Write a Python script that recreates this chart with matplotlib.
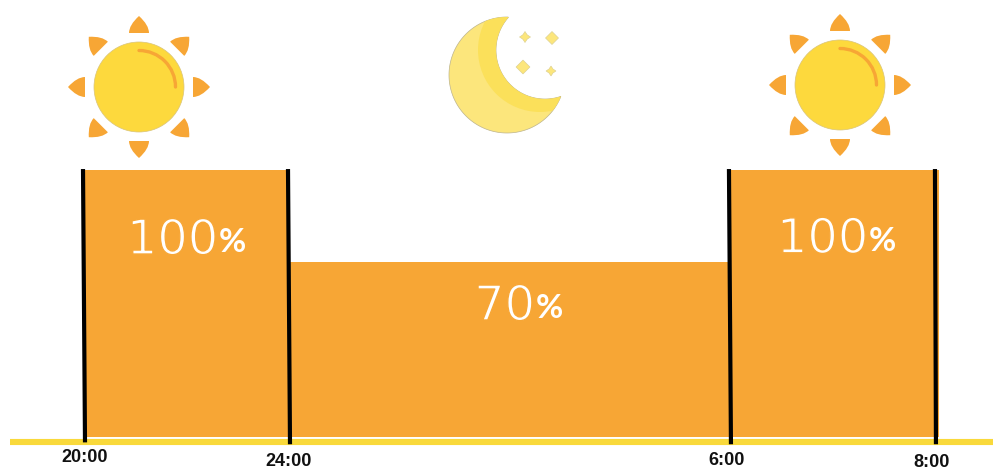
import numpy as np
import matplotlib
matplotlib.use('Agg')
import matplotlib.pyplot as plt
import matplotlib.patheffects as pe
from matplotlib.patches import Circle, PathPatch, Polygon, Arc
from matplotlib.path import Path

# Brightness schedule
time_labels = ['20:00', '24:00', '6:00', '8:00']
tick_pos = [0, 1, 3.151, 4.151]
levels = [100, 70, 100]

ORANGE = '#F7A635'
YELLOW = '#F9D93B'
SUN = '#FDD93D'
MOON_LIGHT = '#FCE67C'
MOON_DARK = '#FBE05A'

fig = plt.figure(figsize=(9.93, 4.70), dpi=100)
ax = fig.add_axes([0, 0, 1, 1])
ax.set_xlim(-85 / 205, 908 / 205)
ax.set_ylim(2.2, 155.4)
ax.axis('off')

# Bars start at a raised floor, the last one runs a little past its tick
floor = 12.8
widths = [1, 2.151, 1.015]
ax.bar(tick_pos[:3], [v - floor for v in levels], widths, bottom=floor,
       align='edge', color=ORANGE, linewidth=0)

# Ground line
ax.hlines(11.3, -75 / 205, 908 / 205, color=YELLOW, lw=4.4, capstyle='butt')

# Slightly slanted black dividers
lean = [-2 / 205, -2 / 205, -2 / 205, -1 / 205]
ends = [11.2, 10.6, 10.6, 10.6]
for x, d, e in zip(tick_pos, lean, ends):
    ax.plot([x + d, x], [100.3, e], color='black', lw=3, solid_capstyle='butt')

# Time labels under the ground line
label_x = [0, 0.995, 3.132, 4.132]
label_y = [6.2, 4.9, 5.2, 4.5]
for x, y, s in zip(label_x, label_y, time_labels):
    ax.text(x, y, s, ha='center', va='center', fontsize=13, fontweight='bold',
            family='Liberation Sans', color='#111111')

# Percent labels: digits thinned by an orange outline, small heavier sign
pct_x = [0.649, 2.195, 3.82]
pct_y = [77.0, 55.5, 77.4]
for x, y, v in zip(pct_x, pct_y, levels):
    t = ax.text(x, y, str(v), ha='right', va='center', fontsize=34.5, color='white',
                family='DejaVu Sans')
    t.set_path_effects([pe.Normal(), pe.Stroke(linewidth=1.0, foreground=ORANGE)])
    ax.text(x + 0.005, y - 0.8, '%', ha='left', va='center', fontsize=24,
            color='white', family='Lato', fontweight='bold')

# Icons live on an overlay measured in pixels
icons = fig.add_axes([0, 0, 1, 1])
icons.set_xlim(0, 993)
icons.set_ylim(470, 0)
icons.axis('off')
icons.patch.set_alpha(0)


def draw_sun(cx, cy):
    verts = [(-10, -54), (10, -54), (10, -62), (0, -71), (-10, -62), (-10, -54), (-10, -54)]
    codes = [Path.MOVETO, Path.LINETO, Path.CURVE3, Path.CURVE3, Path.CURVE3, Path.CURVE3, Path.CLOSEPOLY]
    petal = np.array(verts, dtype=float)
    for a in np.deg2rad(np.arange(0, 360, 45)):
        c, s = np.cos(a), np.sin(a)
        pts = petal @ np.array([[c, s], [-s, c]]) + [cx, cy]
        icons.add_patch(PathPatch(Path(pts, codes), fc=ORANGE, ec='none'))
    icons.add_patch(Circle((cx, cy), 45, fc=SUN, ec='#D9C47A', lw=0.5))
    icons.add_patch(Arc((cx, cy), 73, 73, theta1=270, theta2=360, color=ORANGE, lw=2.4,
                        capstyle='round'))


draw_sun(139, 87)
draw_sun(840, 85)

# Crescent: outer circle arc out to the tips, inner circle arc back
oc, orad = np.array([507, 75]), 58
ic, irad = np.array([545, 50]), 49
tip_a = np.array([508, 17])
tip_b = np.array([561, 97])
a0 = np.arctan2(*(tip_a - oc)[::-1])
a1 = np.arctan2(*(tip_b - oc)[::-1])
outer = np.linspace(a0 + 2 * np.pi, a1, 120)
b0 = np.arctan2(*(tip_b - ic)[::-1])
b1 = np.arctan2(*(tip_a - ic)[::-1]) + 2 * np.pi
inner = np.linspace(b0, b1, 120)
crescent = np.vstack([oc + orad * np.c_[np.cos(outer), np.sin(outer)],
                      ic + irad * np.c_[np.cos(inner), np.sin(inner)]])
moon = Polygon(crescent, closed=True, fc=MOON_LIGHT, ec='#BDB48C', lw=0.5)
icons.add_patch(moon)
band = Circle((540, 50), 62, fc=MOON_DARK, ec='none')
icons.add_patch(band)
band.set_clip_path(moon)

# Stars beside the moon
for x, y, r in [(552, 38, 6.5), (523, 67, 7)]:
    icons.add_patch(Polygon([(x - r, y), (x, y - r), (x + r, y), (x, y + r)],
                            fc=MOON_LIGHT, ec='#D8CC90', lw=0.4))
for x, y, r in [(525, 37, 5.5), (551, 71, 5)]:
    k = r * 0.4
    icons.add_patch(Polygon([(x - r, y), (x - k, y - k), (x, y - r), (x + k, y - k),
                             (x + r, y), (x + k, y + k), (x, y + r), (x - k, y + k)],
                            fc=MOON_LIGHT, ec='#D8CC90', lw=0.4))

fig.savefig('out.png', dpi=100)
